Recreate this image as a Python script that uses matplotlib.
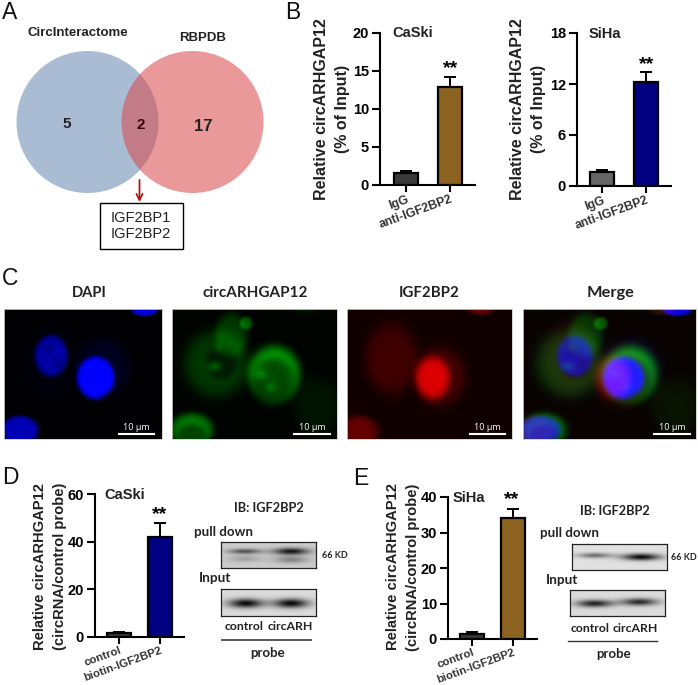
import numpy as np
import matplotlib
matplotlib.use("Agg")
import matplotlib.pyplot as plt
from matplotlib.patches import Circle, Rectangle

plt.rcParams['font.family'] = ['Liberation Sans', 'DejaVu Sans']

W, H = 698, 685

# bar chart values
caski_b_labels = ["IgG", "anti-IGF2BP2"]
caski_b_vals = [1.6, 12.8]
caski_b_err = [0.3, 1.3]
siha_b_labels = ["IgG", "anti-IGF2BP2"]
siha_b_vals = [1.7, 12.2]
siha_b_err = [0.15, 1.2]
caski_d_labels = ["control", "biotin-IGF2BP2"]
caski_d_vals = [1.6, 42.0]
caski_d_err = [0.5, 6.0]
siha_e_labels = ["control", "biotin-IGF2BP2"]
siha_e_vals = [1.5, 34.2]
siha_e_err = [0.5, 2.5]

venn_counts = ["5", "2", "17"]
micro_titles = ["DAPI", "circARHGAP12", "IGF2BP2", "Merge"]

# soft blobs for the micrographs: cx, cy, rx, ry, strength (fractions of the panel)
blue_blobs = [(0.30, 0.36, 0.105, 0.16, 0.6), (0.58, 0.53, 0.12, 0.165, 1.0),
              (0.10, 0.93, 0.12, 0.11, 0.7), (0.89, 0.0, 0.085, 0.055, 0.85)]
blue_halo = [(0.63, 0.45, 0.17, 0.23, 0.12), (0.3, 0.4, 0.2, 0.28, 0.04)]
blue_holes = [(0.28, 0.30, 0.03, 0.04, 0.12), (0.34, 0.42, 0.03, 0.04, 0.12),
              (0.55, 0.50, 0.035, 0.05, 0.2), (0.64, 0.65, 0.03, 0.04, 0.15)]
green_blobs = [(0.27, 0.42, 0.2, 0.26, 0.2), (0.36, 0.2, 0.1, 0.17, 0.2), (0.45, 0.11, 0.04, 0.05, 0.3),
               (0.62, 0.50, 0.155, 0.215, 0.65), (0.12, 0.93, 0.13, 0.13, 0.45),
               (0.80, 0.0, 0.08, 0.04, 0.06), (0.88, 0.75, 0.14, 0.22, 0.06)]
green_holes = [(0.30, 0.40, 0.095, 0.14, 0.12), (0.615, 0.535, 0.125, 0.165, 0.38),
               (0.12, 0.97, 0.085, 0.085, 0.2)]
green_spots = [(0.28, 0.30, 0.03, 0.035, 0.15), (0.26, 0.44, 0.04, 0.035, 0.25),
               (0.54, 0.50, 0.04, 0.04, 0.2), (0.60, 0.60, 0.03, 0.04, 0.15)]
red_blobs = [(0.52, 0.53, 0.105, 0.165, 0.6), (0.56, 0.52, 0.16, 0.23, 0.2),
             (0.27, 0.38, 0.16, 0.28, 0.18), (0.07, 0.94, 0.12, 0.12, 0.32),
             (0.81, 0.0, 0.08, 0.045, 0.3)]

# western blot bands: cx, cy, rx, ry, darkness
d_pull_bands = [(0.25, 0.36, 0.17, 0.1, 0.6), (0.25, 0.65, 0.17, 0.13, 0.2),
                (0.73, 0.36, 0.18, 0.13, 0.9), (0.73, 0.68, 0.17, 0.14, 0.35)]
d_input_bands = [(0.26, 0.53, 0.18, 0.17, 0.95), (0.73, 0.53, 0.18, 0.17, 0.95)]
e_pull_bands = [(0.24, 0.44, 0.18, 0.1, 0.5), (0.73, 0.5, 0.2, 0.13, 0.95)]
e_input_bands = [(0.26, 0.52, 0.19, 0.14, 0.85), (0.73, 0.46, 0.19, 0.14, 0.8)]


def soft(shape, blobs, sharp=4):
    h, w = shape
    yy, xx = np.mgrid[0:h, 0:w]
    xx = (xx + 0.5) / w
    yy = (yy + 0.5) / h
    out = np.zeros(shape)
    for cx, cy, rx, ry, s in blobs:
        d = ((xx - cx) / rx) ** 2 + ((yy - cy) / ry) ** 2
        out += s * np.exp(-d ** sharp)
    return out


def px_axes(fig, x0, y0, x1, y1):
    # pixel box (y down) -> figure axes
    return fig.add_axes([x0 / W, 1 - y1 / H, (x1 - x0) / W, (y1 - y0) / H])


def bar_panel(fig, box, centers, ymax, yticks, vals, errs, colors, labels, lab_size):
    x0, y0, x1, y1 = box
    ax = px_axes(fig, x0, y0, x1, y1)
    step = centers[1] - centers[0]
    ax.set_xlim((x0 - centers[0]) / step, (x1 - centers[0]) / step)
    ax.set_ylim(0, ymax)
    ax.bar([0, 1], vals, width=24 / step, color=colors, edgecolor="black", linewidth=1.6, zorder=2)
    ax.errorbar([0, 1], vals, yerr=[[0, 0], errs], fmt="none", ecolor="black", elinewidth=1.4,
                capsize=4.5, capthick=1.4, zorder=1)
    ax.spines["top"].set_visible(False)
    ax.spines["right"].set_visible(False)
    ax.spines["left"].set_linewidth(1.5)
    ax.spines["bottom"].set_linewidth(1.5)
    ax.patch.set_alpha(0)
    ax.set_yticks(yticks)
    ax.set_xticks([0, 1])
    ax.set_xticklabels(labels, rotation=20, ha="right", rotation_mode="anchor",
                       fontsize=lab_size, fontweight="bold", color="#333333")
    ax.tick_params(axis="y", width=1.5, length=6, labelsize=10.5, pad=2)
    ax.tick_params(axis="x", width=1.5, length=5, pad=1)
    for t in ax.get_yticklabels():
        t.set_fontweight("bold")
    return ax


def label(x, y, s, size, **kw):
    bg.text(x, y, s, fontsize=size, fontweight="bold", ha="center", va="center", color="#222222", **kw)


fig = plt.figure(figsize=(W / 100, H / 100), dpi=100)
bg = fig.add_axes([0, 0, 1, 1])
bg.set_xlim(0, W)
bg.set_ylim(H, 0)
bg.axis("off")

# panel letters
for s, x, y in [("A", 2, 12), ("B", 285, 12), ("C", 2, 278), ("D", 2, 477), ("E", 353, 478)]:
    bg.text(x, y, s, fontsize=16.5, ha="left", va="center", color="#111111")

# A - venn
bg.add_patch(Circle((87.5, 122), 71, fc="#a9bcd3", ec="none"))
bg.add_patch(Circle((192.5, 122), 71, fc="#d9464a", ec="none", alpha=0.55))
label(77.5, 33, "CircInteractome", 9.5)
label(203, 38, "RBPDB", 9.5)
label(67, 124, venn_counts[0], 11)
bg.text(141, 125, venn_counts[1], fontsize=11, fontweight="bold", ha="center", va="center", color="#3a0808")
label(203, 126, venn_counts[2], 12)
bg.annotate("", xy=(139.5, 202), xytext=(139.5, 180),
            arrowprops=dict(arrowstyle="->", color="#b01515", lw=1.3, mutation_scale=11, shrinkA=0, shrinkB=0))
bg.add_patch(Rectangle((99.5, 202.5), 83, 46, fc="white", ec="black", lw=1))
bg.text(141, 218, "IGF2BP1", fontsize=10.5, ha="center", va="center", color="#222222")
bg.text(141, 234, "IGF2BP2", fontsize=10.5, ha="center", va="center", color="#222222")

# B
bar_panel(fig, (380, 32.5, 475, 185), (406, 450), 20, [0, 5, 10, 15, 20], caski_b_vals, caski_b_err,
          ["#3a3a3a", "#8c6220"], caski_b_labels, 8.8)
bar_panel(fig, (577, 33, 671, 186), (602, 646), 18, [0, 6, 12, 18], siha_b_vals, siha_b_err,
          ["#666666", "#000080"], siha_b_labels, 8.8)
label(322, 109, "Relative circARHGAP12", 11.5, rotation=90)
label(342, 109, "(% of Input)", 11.5, rotation=90)
label(518, 109, "Relative circARHGAP12", 11.5, rotation=90)
label(538, 109, "(% of Input)", 11.5, rotation=90)
label(413, 33, "CaSki", 10.5)
label(605, 34, "SiHa", 10.5)
bg.text(451, 69, "**", fontsize=14, fontweight="bold", ha="center", va="center")
bg.text(647, 65, "**", fontsize=14, fontweight="bold", ha="center", va="center")

# C - micrographs
boxes = [(4, 309, 162, 439), (172, 309, 337, 439), (347, 309, 512, 439), (523, 309, 696, 439)]
title_x = [89, 255, 429, 611]
title_size = [10.6, 11, 10.8, 11.8]
shape = (130, 165)
blue = soft(shape, blue_blobs, 5) + soft(shape, blue_halo, 3) - soft(shape, blue_holes, 1) + 0.01
green = np.clip(soft(shape, green_blobs, 3) - soft(shape, green_holes, 3) + soft(shape, green_spots, 1), 0, 1) + 0.015
red = soft(shape, red_blobs, 3) + 0.07
zero = np.zeros(shape)
images = [np.dstack([zero, zero, blue]),
          np.dstack([zero, green, zero]),
          np.dstack([red, zero, zero]),
          np.dstack([red * 0.5, green * (1 - 0.6 * soft(shape, blue_blobs, 5)), blue])]
bar_x = [(119, 154), (294, 330), (470, 505), (654, 690)]
micro_font = ["Lato", "DejaVu Sans"]
for i, box in enumerate(boxes):
    a = px_axes(fig, *box)
    a.imshow(np.clip(images[i], 0, 1), aspect="auto", interpolation="bilinear")
    a.set_xticks([])
    a.set_yticks([])
    for sp in a.spines.values():
        sp.set_color("#cccccc")
        sp.set_linewidth(0.6)
    label(title_x[i], 293, micro_titles[i], title_size[i], family=micro_font)
    # scale bar has to sit on top of the image axes
    bx0 = (bar_x[i][0] - box[0]) / (box[2] - box[0]) * 165 - 0.5
    bx1 = (bar_x[i][1] - box[0]) / (box[2] - box[0]) * 165 - 0.5
    a.plot([bx0, bx1], [124, 124], color="white", lw=1.5)
    a.set_xlim(-0.5, 164.5)
    a.set_ylim(129.5, -0.5)
    a.text((bx0 + bx1) / 2, 122.5, "10 µm", color="white", fontsize=6.5, ha="center", va="bottom",
           family=["Open Sans", "DejaVu Sans"])

# D
bar_panel(fig, (95, 494, 184, 637), (119, 159.5), 60, [0, 20, 40, 60], caski_d_vals, caski_d_err,
          ["#3a3a3a", "#000080"], caski_d_labels, 8.2)
label(40, 566, "Relative circARHGAP12", 10.6, rotation=90)
label(60, 566, "(circRNA/control probe)", 10.6, rotation=90)
label(125, 495, "CaSki", 10.5)
bg.text(160, 515, "**", fontsize=14, fontweight="bold", ha="center", va="center")

# E
bar_panel(fig, (448, 497, 537, 639), (472, 513), 40, [0, 10, 20, 30, 40], siha_e_vals, siha_e_err,
          ["#3a3a3a", "#8c6220"], siha_e_labels, 8.2)
label(393, 567, "Relative circARHGAP12", 10.6, rotation=90)
label(413, 567, "(circRNA/control probe)", 10.6, rotation=90)
label(469, 498, "SiHa", 10.5)
bg.text(512, 500, "**", fontsize=14, fontweight="bold", ha="center", va="center")

# D/E - blots
blots = [((221, 542, 316, 568), d_pull_bands, 0.80), ((221, 589, 316, 616), d_input_bands, 0.86),
         ((572, 544, 667, 570), e_pull_bands, 0.88), ((570, 590, 665, 616), e_input_bands, 0.86)]
for box, bands, base in blots:
    a = px_axes(fig, *box)
    arr = np.clip(base - base * soft((40, 140), bands, 1), 0, 1)
    a.imshow(arr, cmap="gray", vmin=0, vmax=1, aspect="auto", interpolation="bilinear")
    a.set_xticks([])
    a.set_yticks([])
    for sp in a.spines.values():
        sp.set_color("#222222")
        sp.set_linewidth(0.9)

label(269, 508, "IB: IGF2BP2", 9.2, family=micro_font)
label(224, 532, "pull down", 9.6, family=micro_font)
label(215, 578, "Input", 9.8, family=micro_font)
label(244, 627, "control", 8.8, family=micro_font)
label(290, 627, "circARH", 8.8, family=micro_font)
bg.plot([222, 311], [640, 640], color="#555555", lw=1.4)
label(268, 653, "probe", 9.5, family=micro_font)
label(335, 555, "66 KD", 6.5, family=micro_font)

label(615, 511, "IB: IGF2BP2", 9.2, family=micro_font)
label(570, 533, "pull down", 9.6, family=micro_font)
label(562, 580, "Input", 9.8, family=micro_font)
label(590, 628, "control", 8.8, family=micro_font)
label(635, 628, "circARH", 8.8, family=micro_font)
bg.plot([568, 657], [641, 641], color="#333333", lw=1)
label(614, 654, "probe", 9.5, family=micro_font)
label(684, 557, "66 KD", 6.5, family=micro_font)

fig.savefig("out.png", dpi=100)
